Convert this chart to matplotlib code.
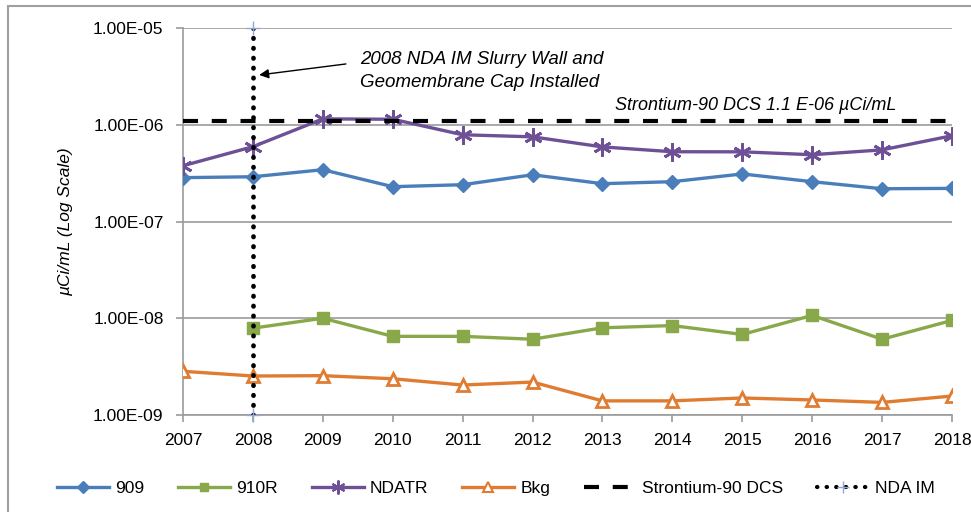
import matplotlib
matplotlib.use("Agg")
import matplotlib.pyplot as plt
from matplotlib.lines import Line2D
from matplotlib.patches import Rectangle

plt.rcParams['font.family'] = ['Liberation Sans', 'DejaVu Sans']

years = [2007, 2008, 2009, 2010, 2011, 2012, 2013, 2014, 2015, 2016, 2017, 2018]
well_909 = [2.84e-7, 2.90e-7, 3.43e-7, 2.29e-7, 2.40e-7, 3.04e-7, 2.46e-7, 2.58e-7, 3.10e-7, 2.58e-7, 2.18e-7, 2.20e-7]
years_910r = [2008, 2009, 2010, 2011, 2012, 2013, 2014, 2015, 2016, 2017, 2018]
well_910r = [7.9e-9, 1.0e-8, 6.5e-9, 6.5e-9, 6.07e-9, 7.97e-9, 8.4e-9, 6.8e-9, 1.07e-8, 6.07e-9, 9.5e-9]
ndatr = [3.77e-7, 5.93e-7, 1.15e-6, 1.14e-6, 7.88e-7, 7.5e-7, 5.9e-7, 5.26e-7, 5.25e-7, 4.9e-7, 5.5e-7, 7.7e-7]
bkg = [2.83e-9, 2.53e-9, 2.55e-9, 2.37e-9, 2.04e-9, 2.19e-9, 1.40e-9, 1.40e-9, 1.50e-9, 1.43e-9, 1.35e-9, 1.57e-9]
dcs_value = 1.1e-6
nda_im_year = 2008
y_ticks = [1e-9, 1e-8, 1e-7, 1e-6, 1e-5]
y_tick_labels = ['1.00E-09', '1.00E-08', '1.00E-07', '1.00E-06', '1.00E-05']

c909 = '#4a7ebb'
c910 = '#88a84a'
cnda = '#6d5096'
cbkg = '#e07c32'
grid_c = '#9b9b9b'
fs = 12.5

fig = plt.figure(figsize=(9.71, 5.12), dpi=100)
# chart frame (runs off the right and bottom edges)
fig.patches.append(Rectangle((8/971, -0.05), 1.0, 1 - 6/512 + 0.05, transform=fig.transFigure,
                             fill=False, edgecolor='#a0a0a0', linewidth=1.5))

ax = fig.add_axes([183/971, 1 - 415/512, (952 - 183)/971, (415 - 28)/512])
ax.set_yscale('log')
ax.set_ylim(1e-9, 1e-5)
ax.set_xlim(2007, 2018)

for v in y_ticks:
    ax.axhline(v, color=grid_c, linewidth=1.2, zorder=0)

ax.plot(years, well_909, color=c909, lw=2.4, marker='D', ms=7.5, mfc=c909, mec=c909, label='909', zorder=3)
ax.plot(years_910r, well_910r, color=c910, lw=2.4, marker='s', ms=8, mfc=c910, mec=c910, label='910R', zorder=3)
ax.plot(years, ndatr, color=cnda, lw=2.4, marker=(6, 2, 0), ms=13, mew=2, mec=cnda, label='NDATR', zorder=3)
ax.plot(years, bkg, color=cbkg, lw=2.4, marker='^', ms=9, mfc='white', mec=cbkg, mew=2, label='Bkg', zorder=3)
ax.plot([2007, 2018], [dcs_value, dcs_value], color='black', lw=3, dashes=(3.6, 3.3),
        label='Strontium-90 DCS', zorder=4)
ax.plot([nda_im_year, nda_im_year], [1e-9, 1e-5], color='black', lw=3.4, linestyle=(0, (0.1, 2.0)),
        dash_capstyle='round', zorder=5)
ax.plot([nda_im_year, nda_im_year], [1e-9, 1e-5], linestyle='none', marker='+', ms=10,
        mec='#8fa8d8', mew=1, zorder=6, clip_on=False)

ax.set_yticks(y_ticks)
ax.set_yticklabels(y_tick_labels)
ax.minorticks_off()
ax.set_xticks(years)
ax.set_xticklabels([str(y) for y in years])
ax.tick_params(axis='both', labelsize=fs, colors='black', length=5, width=1.2, color=grid_c)
ax.tick_params(axis='y', pad=9)
ax.tick_params(axis='x', pad=8)
for s in ['top', 'right']:
    ax.spines[s].set_visible(False)
for s in ['left', 'bottom']:
    ax.spines[s].set_color(grid_c)
    ax.spines[s].set_linewidth(1.2)

ax.set_ylabel('µCi/mL (Log Scale)', fontstyle='italic', fontsize=fs)
ax.yaxis.set_label_coords(-0.143, 0.5)

ax.text(2009.53, 3.6e-6, '2008 NDA IM Slurry Wall and\nGeomembrane Cap Installed',
        fontsize=13.5, fontstyle='italic', ha='left', va='center', linespacing=1.5)
ax.annotate('', xy=(2008.09, 3.27e-6), xytext=(2009.33, 4.25e-6),
            arrowprops=dict(arrowstyle='-|>', color='black', lw=1, mutation_scale=14,
                            shrinkA=0, shrinkB=0))
ax.text(2013.18, 1.03e-6 * 10 ** (18 / 96.8), 'Strontium-90 DCS 1.1 E-06 µCi/mL', fontsize=13,
        fontstyle='italic', ha='left', va='center')

handles = [
    Line2D([], [], color=c909, lw=2.4, marker='D', ms=6, mfc=c909, mec=c909),
    Line2D([], [], color=c910, lw=2.4, marker='s', ms=6, mfc=c910, mec=c910),
    Line2D([], [], color=cnda, lw=2.4, marker=(6, 2, 0), ms=10, mew=1.5, mec=cnda),
    Line2D([], [], color=cbkg, lw=2.4, marker='^', ms=7, mfc='white', mec=cbkg, mew=1.5),
    Line2D([], [], color='black', lw=3, dashes=(3.6, 3.3)),
    Line2D([], [], color='black', lw=3, linestyle=(0, (0.1, 2.2)), dash_capstyle='round',
           marker='+', ms=9, mec='#8fa8d8', mew=1),
]
labels = ['909', '910R', 'NDATR', 'Bkg', 'Strontium-90 DCS', 'NDA IM']
fig.legend(handles, labels, loc='center left', bbox_to_anchor=(57/971, 1 - 488/512), ncol=6,
           frameon=False, fontsize=fs, handlelength=3.0, handletextpad=0.35,
           columnspacing=1.95, borderaxespad=0, borderpad=0)

fig.savefig('out.png', dpi=100)
